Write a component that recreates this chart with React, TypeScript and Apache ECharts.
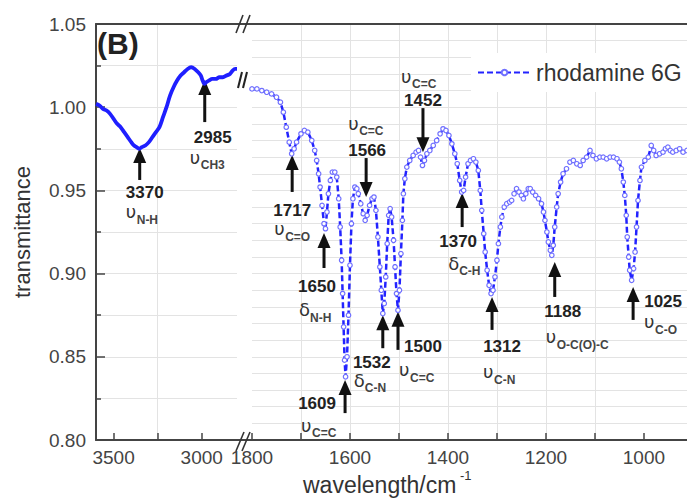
import React, { useEffect, useRef } from 'react';
import * as echarts from 'echarts';

// ---------- data ----------
const leftWavenumbers = [3600, 3580, 3560, 3540, 3520, 3500, 3480, 3460, 3440, 3420, 3400, 3385, 3370, 3355, 3340, 3320, 3300, 3280, 3260, 3240, 3220, 3200, 3180, 3160, 3140, 3120, 3100, 3080, 3060, 3040, 3020, 3005, 2995, 2985, 2975, 2960, 2940, 2920, 2900, 2880, 2860, 2840, 2825, 2810, 2800];
const leftTransmittance = [1.002, 1.001, 0.999, 0.998, 0.996, 0.993, 0.990, 0.988, 0.985, 0.982, 0.979, 0.977, 0.976, 0.975, 0.976, 0.977, 0.979, 0.982, 0.985, 0.988, 0.994, 1.000, 1.007, 1.012, 1.016, 1.019, 1.021, 1.023, 1.024, 1.023, 1.021, 1.019, 1.016, 1.014, 1.015, 1.016, 1.017, 1.017, 1.018, 1.018, 1.019, 1.020, 1.022, 1.023, 1.023];

const rightWavenumbers = [1800, 1790, 1780, 1770, 1760, 1750, 1742, 1736, 1730, 1724, 1719, 1714, 1709, 1700, 1693, 1686, 1678, 1672, 1668, 1664, 1661, 1657, 1653, 1650, 1647, 1644, 1640, 1636, 1631, 1627, 1623, 1620, 1617, 1615, 1613, 1611, 1609, 1606, 1603, 1600, 1597, 1594, 1590, 1586, 1583, 1578, 1573, 1569, 1565, 1560, 1555, 1551, 1547, 1543, 1539, 1536, 1533, 1530, 1527, 1524, 1521, 1518, 1515, 1511, 1508, 1505, 1502, 1499, 1496, 1493, 1491, 1488, 1484, 1478, 1471, 1465, 1460, 1456, 1452, 1448, 1443, 1437, 1430, 1423, 1416, 1410, 1404, 1398, 1392, 1386, 1381, 1376, 1372, 1368, 1364, 1359, 1354, 1348, 1343, 1338, 1334, 1331, 1327, 1324, 1320, 1316, 1312, 1308, 1304, 1300, 1297, 1293, 1290, 1285, 1280, 1274, 1270, 1265, 1260, 1255, 1250, 1246, 1241, 1236, 1232, 1227, 1221, 1215, 1209, 1205, 1202, 1198, 1195, 1191, 1188, 1185, 1182, 1178, 1175, 1170, 1165, 1158, 1151, 1144, 1137, 1130, 1124, 1117, 1110, 1104, 1097, 1090, 1083, 1076, 1069, 1062, 1055, 1050, 1046, 1042, 1039, 1036, 1034, 1031, 1029, 1025, 1021, 1018, 1015, 1012, 1008, 1005, 998, 991, 985, 980, 975, 968, 961, 956, 951, 946, 941, 934, 927, 920, 912];
const rightTransmittance = [1.011, 1.011, 1.010, 1.009, 1.008, 1.006, 1.003, 0.997, 0.988, 0.979, 0.972, 0.975, 0.979, 0.984, 0.986, 0.985, 0.980, 0.974, 0.968, 0.960, 0.952, 0.941, 0.930, 0.927, 0.937, 0.948, 0.956, 0.961, 0.961, 0.958, 0.945, 0.928, 0.908, 0.888, 0.868, 0.848, 0.838, 0.850, 0.875, 0.905, 0.930, 0.945, 0.952, 0.951, 0.948, 0.942, 0.936, 0.932, 0.935, 0.941, 0.945, 0.946, 0.938, 0.922, 0.904, 0.890, 0.876, 0.882, 0.898, 0.918, 0.935, 0.939, 0.934, 0.920, 0.904, 0.888, 0.878, 0.890, 0.912, 0.932, 0.948, 0.957, 0.964, 0.968, 0.971, 0.973, 0.974, 0.970, 0.965, 0.968, 0.972, 0.974, 0.977, 0.980, 0.984, 0.987, 0.986, 0.983, 0.978, 0.972, 0.966, 0.956, 0.949, 0.950, 0.958, 0.966, 0.968, 0.969, 0.967, 0.962, 0.950, 0.938, 0.924, 0.913, 0.902, 0.893, 0.888, 0.890, 0.898, 0.908, 0.918, 0.928, 0.934, 0.940, 0.942, 0.943, 0.944, 0.948, 0.951, 0.949, 0.947, 0.945, 0.948, 0.951, 0.951, 0.949, 0.947, 0.945, 0.942, 0.937, 0.932, 0.925, 0.919, 0.914, 0.911, 0.917, 0.928, 0.940, 0.948, 0.955, 0.960, 0.963, 0.967, 0.968, 0.966, 0.965, 0.968, 0.970, 0.974, 0.971, 0.969, 0.970, 0.970, 0.969, 0.970, 0.970, 0.969, 0.967, 0.963, 0.955, 0.947, 0.935, 0.922, 0.910, 0.902, 0.896, 0.903, 0.913, 0.928, 0.944, 0.956, 0.964, 0.968, 0.970, 0.977, 0.974, 0.971, 0.972, 0.973, 0.975, 0.976, 0.974, 0.973, 0.974, 0.975, 0.973, 0.974];

const leftTickValues = [3500, 3250, 3000];
const leftLabelValues = [3500, 3000];
const rightTickValues = [1800, 1700, 1600, 1500, 1400, 1300, 1200, 1100, 1000];
const rightLabelValues = [1800, 1600, 1400, 1200, 1000];

const seriesName = 'rhodamine 6G';

// peak annotations: series index, arrow position (wavenumber, transmittance at tip), direction, label texts
const peakSeries = [0, 0, 1, 1, 1, 1, 1, 1, 1, 1, 1, 1, 1];
const peakAt = [3352, 2983, 1718, 1653, 1610, 1567, 1533, 1502, 1451, 1371, 1310, 1182, 1022];
const peakTip = [0.9755, 1.0163, 0.9713, 0.9244, 0.836, 0.946, 0.875, 0.877, 0.973, 0.9484, 0.886, 0.907, 0.892];
const peakDir = ['up', 'up', 'up', 'up', 'up', 'down', 'up', 'up', 'down', 'up', 'up', 'up', 'up'];
const peakLabels = ['3370', '2985', '1717', '1650', '1609', '1566', '1532', '1500', '1452', '1370', '1312', '1188', '1025'];
const peakSymbols = ['υ', 'υ', 'υ', 'δ', 'υ', 'υ', 'δ', 'υ', 'υ', 'δ', 'υ', 'υ', 'υ'];
const peakSubs = ['N-H', 'CH3', 'C=O', 'N-H', 'C=C', 'C=C', 'C-N', 'C=C', 'C=C', 'C-H', 'C-N', 'O-C(O)-C', 'C-O'];
// layout offsets (px, relative to arrow tip)
const arrowLen = [32, 42, 37, 35, 33, 39, 33, 38, 44, 34, 33, 35, 33];
const labelOff = [[5, 45], [8, 57], [0, 56], [-7, 54], [-28, 23], [1, -47], [-11, 47], [25, 35], [0, -52], [-4, 48], [10, 50], [8, 50], [30, 15]];
const symOff = [[-14, 64], [-15, 77], [-18, 74], [-25, 77], [-44, 45], [-18, -74], [-29, 65], [1, 58], [-22, -76], [-14, 70], [-9, 75], [-9, 75], [11, 35]];

const FONT = "'Liberation Sans', Arial, Helvetica, sans-serif";
const GREEK = "'DejaVu Sans', 'Liberation Sans', sans-serif";
const AXIS = '#444';
const GRIDC = '#e3e3e3';
const BLUE = '#2323ff';

function txt(x: number, y: number, text: string, font: string, fill: string, align = 'center', valign = 'middle', extra: any = {}) {
  return {
    type: 'text', x, y, silent: true, z: 100,
    style: { text, font, fill, align, verticalAlign: valign, textAlign: align, textVerticalAlign: valign },
    ...extra,
  };
}

export default function App() {
  const ref = useRef<HTMLDivElement>(null);
  useEffect(() => {
    const chart = echarts.init(ref.current!, null, { renderer: 'svg' });
    const topAxis = (gi: number, min: number, max: number) => ({
      gridIndex: gi, type: 'value', position: 'top', inverse: true, min, max,
      axisLine: { show: true, onZero: false, lineStyle: { color: AXIS, width: 2 } },
      axisTick: { show: false }, axisLabel: { show: false }, splitLine: { show: false },
    });
    const bottomAxis = (gi: number, min: number, max: number, ticks: number[], labels: number[]) => ({
      gridIndex: gi, type: 'value', position: 'bottom', inverse: true, min, max,
      axisLine: { show: true, onZero: false, lineStyle: { color: AXIS, width: 2 } },
      axisTick: { show: true, inside: true, length: 7, customValues: ticks, lineStyle: { color: AXIS, width: 1.5 } },
      axisLabel: { show: true, customValues: labels, formatter: (v: number) => String(Math.round(v)), margin: 8, color: '#444', fontSize: 19, fontFamily: FONT },
      splitLine: { show: true, showMinLine: false, showMaxLine: false, lineStyle: { color: GRIDC, width: 1 } },
    });
    const yBase = { type: 'value', min: 0.8, max: 1.05, interval: 0.05 };
    const option: any = {
      animation: false,
      backgroundColor: '#fff',
      grid: [
        { left: 96, right: 450, top: 24, bottom: 59 },
        { left: 252, right: 0, top: 24, bottom: 59 },
      ],
      xAxis: [
        bottomAxis(0, 2800, 3600, leftTickValues, leftLabelValues),
        bottomAxis(1, 912, 1800, rightTickValues, rightLabelValues),
        topAxis(0, 2800, 3600),
        topAxis(1, 912, 1800),
      ],
      yAxis: [
        {
          ...yBase, gridIndex: 0,
          axisLine: { show: true, lineStyle: { color: AXIS, width: 2 } },
          axisTick: { show: true, inside: true, length: 9, lineStyle: { color: AXIS, width: 1.5 } },
          minorTick: { show: true, splitNumber: 2, length: 5, lineStyle: { color: AXIS, width: 1.5 } },
          axisLabel: { formatter: (v: number) => v.toFixed(2), margin: 10, color: '#444', fontSize: 19, fontFamily: FONT },
          splitLine: { show: true, lineStyle: { color: GRIDC } },
          minorSplitLine: { show: true, lineStyle: { color: GRIDC } },
        },
        {
          ...yBase, gridIndex: 1,
          axisLine: { show: false }, axisTick: { show: false }, axisLabel: { show: false },
          splitLine: { show: true, lineStyle: { color: GRIDC } },
          minorSplitLine: { show: true, lineStyle: { color: GRIDC } },
        },
      ],
      legend: {
        data: [seriesName], left: 471, top: 53, padding: [8, 10, 8, 6], backgroundColor: '#fff',
        itemWidth: 53, itemHeight: 7,
        textStyle: { fontSize: 23, fontFamily: FONT, color: '#333' },
      },
      series: [
        {
          name: seriesName + ' (3600-2800)', type: 'line', xAxisIndex: 0, yAxisIndex: 0,
          data: leftWavenumbers.map((w, i) => [w, leftTransmittance[i]]),
          symbol: 'none', smooth: 0.3, silent: true,
          lineStyle: { color: '#1f1fff', width: 3.8 },
        },
        {
          name: seriesName, type: 'line', xAxisIndex: 1, yAxisIndex: 1,
          data: rightWavenumbers.map((w, i) => [w, rightTransmittance[i]]),
          symbol: 'circle', symbolSize: 4.5, showSymbol: true, silent: true,
          itemStyle: { color: '#fff', borderColor: '#7070ff', borderWidth: 1.2 },
          lineStyle: { color: BLUE, width: 2.5, type: [6, 3] },
        },
      ],
    };
    chart.setOption(option);

    const g: any[] = [];
    // axis titles and panel label
    g.push(txt(97, 43, '(B)', `bold 30px ${FONT}`, '#222', 'left', 'middle'));
    g.push(txt(22, 232, 'transmittance', `22px ${FONT}`, '#333', 'center', 'middle', { rotation: Math.PI / 2 }));
    g.push(txt(303, 485, 'wavelength/cm', `23px ${FONT}`, '#333', 'left', 'middle'));
    g.push(txt(460, 475, '-1', `13px ${FONT}`, '#333', 'left', 'middle'));
    // axis-break marks
    const brk = (pts: number[][], color: string, w: number) =>
      pts.forEach(([x1, y1, x2, y2]) => g.push({ type: 'line', silent: true, z: 100, shape: { x1, y1, x2, y2 }, style: { stroke: color, lineWidth: w } }));
    g.push({ type: 'line', silent: true, z: 99, shape: { x1: 236, y1: 24, x2: 252, y2: 24 }, style: { stroke: AXIS, lineWidth: 2 } });
    g.push({ type: 'line', silent: true, z: 99, shape: { x1: 236, y1: 440, x2: 252, y2: 440 }, style: { stroke: AXIS, lineWidth: 2 } });
    brk([[236, 33, 243, 15], [243, 33, 250, 15]], '#333', 1.6);
    brk([[236, 451, 244, 432], [242, 451, 250, 432]], '#333', 1.6);
    brk([[238, 88, 242, 72], [243, 88, 247, 72]], '#222', 2);

    // peak annotations
    for (let i = 0; i < peakAt.length; i++) {
      const p = chart.convertToPixel({ seriesIndex: peakSeries[i] }, [peakAt[i], peakTip[i]]) as number[];
      if (!p) continue;
      const [tx, ty] = p;
      const len = arrowLen[i];
      g.push({
        type: 'group', x: tx, y: ty, rotation: peakDir[i] === 'down' ? Math.PI : 0, silent: true, z: 100,
        children: [
          { type: 'polygon', shape: { points: [[0, 0], [-6.5, 15], [6.5, 15]] }, style: { fill: '#111' } },
          { type: 'rect', shape: { x: -1.5, y: 13, width: 3, height: len - 13 }, style: { fill: '#111' } },
        ],
      });
      g.push(txt(tx + labelOff[i][0], ty + labelOff[i][1], peakLabels[i], `bold 17px ${FONT}`, '#222'));
      const sx = tx + symOff[i][0];
      const sy = ty + symOff[i][1];
      g.push(txt(sx, sy, peakSymbols[i], `18px ${GREEK}`, '#333', 'left', 'middle'));
      g.push(txt(sx + 11, sy + 8, peakSubs[i], `bold 12px ${FONT}`, '#444', 'left', 'middle'));
    }
    chart.setOption({ graphic: g });
    return () => chart.dispose();
  }, []);
  return <div ref={ref} style={{ position: 'absolute', left: 0, top: 0, width: 687, height: 499 }} />;
}
